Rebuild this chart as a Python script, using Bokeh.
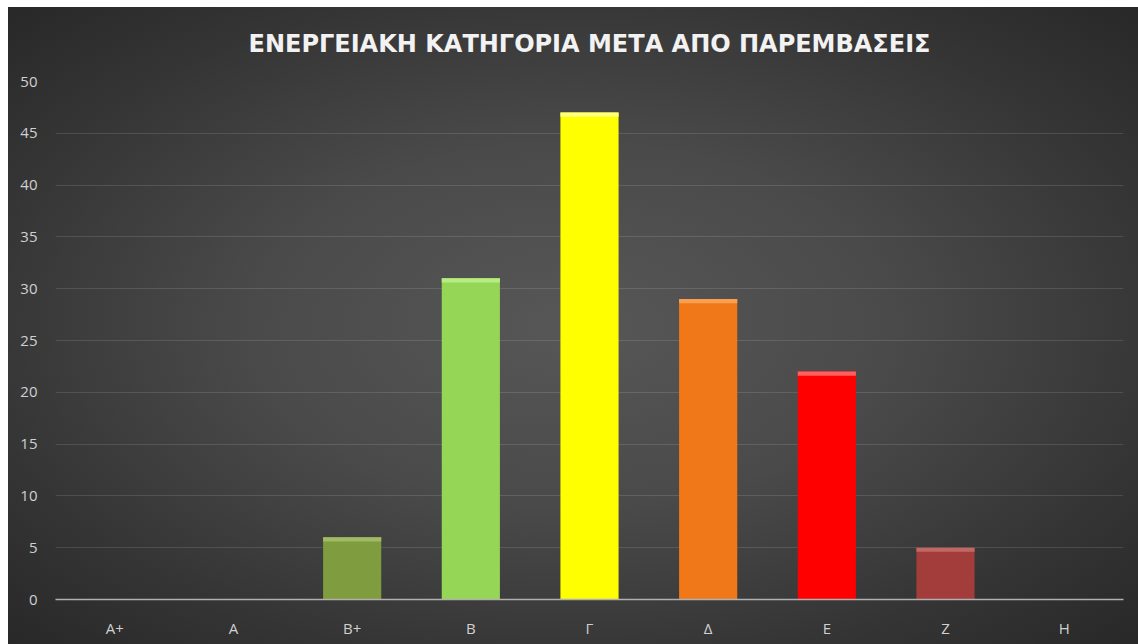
from bokeh.plotting import figure
from bokeh.models import ColumnDataSource, FactorRange, Range1d, FixedTicker
from bokeh.embed import file_html
from bokeh.resources import INLINE

categories = ["A+", "A", "B+", "B", "Γ", "Δ", "Ε", "Ζ", "Η"]
values = [0, 0, 6, 31, 47, 29, 22, 5, 0]
colors = ["#7f9c3e", "#7f9c3e", "#7f9c3e", "#96d656", "#ffff00", "#f07818", "#ff0000", "#a33d3b", "#a33d3b"]
top_colors = ["#a0ba66", "#a0ba66", "#a0ba66", "#b6ec80", "#ffff80", "#f8a050", "#ff6060", "#c06866", "#c06866"]
y_ticks = [0, 5, 10, 15, 20, 25, 30, 35, 40, 45, 50]
title_text = "ΕΝΕΡΓΕΙΑΚΗ ΚΑΤΗΓΟΡΙΑ ΜΕΤΑ ΑΠΟ ΠΑΡΕΜΒΑΣΕΙΣ"

bevel = 0.4
vis = ColumnDataSource(dict(
    cat=[c for c, v in zip(categories, values) if v > 0],
    val=[v for v in values if v > 0],
    color=[c for c, v in zip(colors, values) if v > 0],
    tcolor=[c for c, v in zip(top_colors, values) if v > 0],
    bev_bottom=[v - bevel for v in values if v > 0],
))

p = figure(
    x_range=FactorRange(*categories, range_padding=0),
    y_range=Range1d(0, 50),
    width=1130, height=637,
    output_backend="svg", toolbar_location=None,
    background_fill_color=None, border_fill_color=None,
    min_border_left=47, min_border_right=15,
    min_border_top=74, min_border_bottom=45,
    title=title_text,
)
p.margin = (7, 0, 0, 8)
p.styles = {"background": "radial-gradient(ellipse at 50% 50%, #575757 0%, #4a4a4a 40%, #353535 75%, #282828 100%)"}
p.outline_line_color = None

p.title.align = "center"
p.title.vertical_align = "top"
p.title.text_color = "#f2f2f2"
p.title.text_font = "DejaVu Sans"
p.title.text_font_size = "24px"
p.title.text_font_style = "bold"
p.title.offset = -13
p.title.standoff = 43

p.vbar(x="cat", top="val", bottom=0, width=0.49, source=vis,
       fill_color="color", line_color=None)
p.vbar(x="cat", top="val", bottom="bev_bottom", width=0.49, source=vis,
       fill_color="tcolor", line_color=None)

p.yaxis.ticker = FixedTicker(ticks=y_ticks)
p.yaxis.axis_line_color = None
p.yaxis.major_tick_line_color = None
p.yaxis.minor_tick_line_color = None
p.yaxis.major_label_text_color = "#d0d0d0"
p.yaxis.major_label_text_font = "Open Sans"
p.yaxis.major_label_text_font_size = "15px"
p.yaxis.major_label_standoff = 12

p.xaxis.axis_line_color = "#b0b0b0"
p.xaxis.axis_line_width = 1.5
p.xaxis.major_tick_line_color = None
p.xaxis.minor_tick_line_color = None
p.xaxis.major_label_text_color = "#d0d0d0"
p.xaxis.major_label_text_font = "Open Sans"
p.xaxis.major_label_text_font_size = "15px"
p.xaxis.major_label_standoff = 12

p.xgrid.grid_line_color = None
p.ygrid.grid_line_color = "#ffffff"
p.ygrid.grid_line_alpha = 0.12
p.ygrid.grid_line_width = 1

open("out.html", "w").write(file_html(p, INLINE))
